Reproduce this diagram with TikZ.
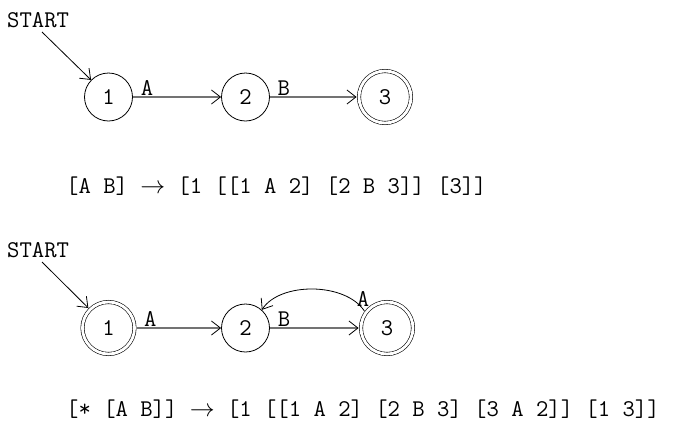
\documentclass[tikz,border=0pt]{standalone}
\usepackage{fontspec}
\usetikzlibrary{arrows.meta}
\begin{document}
\begin{tikzpicture}[x=1pt,y=-1pt,
  font=\ttfamily\fontsize{24}{28}\selectfont,
  state/.style={draw, circle, minimum size=48pt, inner sep=0pt, line width=0.8pt},
  accept/.style={draw, circle, minimum size=52pt, inner sep=0pt, line width=0.6pt, double, double distance=2.8pt, outer sep=2.4pt},
  arr/.style={line width=0.8pt, -{Straight Barb[length=9pt,width=14pt,line width=0.8pt]}},
  harr/.style={line width=1.6pt, draw=black!55, -{Straight Barb[length=9pt,width=14pt,line width=0.8pt,color=black]}},
  lbl/.style={inner sep=1pt}]
\useasboundingbox (0,0) rectangle (673,437);
% top automaton
\node[anchor=base west, inner sep=0pt] (st1) at (7,27) {START};
\coordinate (s1) at (42,32);
\node[state] (a1) at (108.5,97) {1};
\node[state] (a2) at (245.5,97) {2};
\node[accept] (a3) at (385,97) {3};
\draw[arr] (s1) -- (a1);
\draw[harr] (a1) -- node[lbl, pos=0.16, above] {A} (a2);
\draw[harr] (a2) -- node[lbl, pos=0.16, above] {B} (a3);
\node[anchor=base west, inner sep=0pt] (f1) at (66,193) {[A B] $\rightarrow$ [1 [[1 A 2] [2 B 3]] [3]]};
% bottom automaton
\node[anchor=base west, inner sep=0pt] (st2) at (7,257) {START};
\coordinate (s2) at (42,262);
\node[accept] (b1) at (108.5,328) {1};
\node[state] (b2) at (245.5,328) {2};
\node[accept] (b3) at (387,328) {3};
\draw[arr] (s2) -- (b1);
\draw[harr] (b1) -- node[lbl, pos=0.16, above] {A} (b2);
\draw[harr] (b2) -- node[lbl, pos=0.16, above] {B} (b3);
\draw[arr] (b3.143) .. controls (345,282) and (280,282) .. (b2.48)
  node[lbl, pos=0.02, above, yshift=1pt] {A};
\node[anchor=base west, inner sep=0pt] (f2) at (66,416) {[* [A B]] $\rightarrow$ [1 [[1 A 2] [2 B 3] [3 A 2]] [1 3]]};
\end{tikzpicture}
\end{document}
